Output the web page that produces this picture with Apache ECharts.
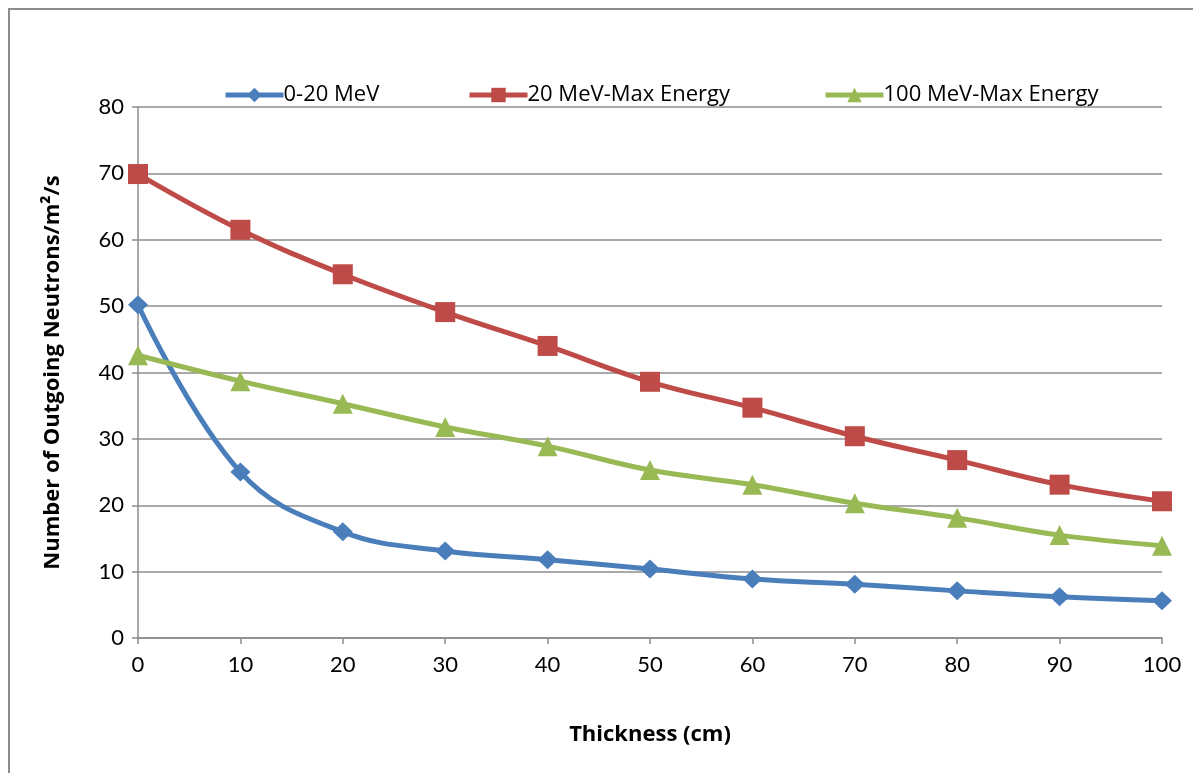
<!DOCTYPE html>
<html>
<head>
<meta charset="utf-8">
<script src="https://cdn.jsdelivr.net/npm/echarts@6/dist/echarts.min.js"></script>
<style>
  html, body { margin: 0; padding: 0; background: #fff; }
  #frame { position: absolute; left: 8px; top: 8px; width: 1200px; height: 780px;
           border: 2px solid #8c8c8c; box-sizing: border-box; }
  #chart { position: absolute; left: 0; top: 0; width: 1193px; height: 773px; }
</style>
</head>
<body>
<div id="frame"></div>
<div id="chart"></div>
<script>
// Thickness in cm
const thickness = [0, 10, 20, 30, 40, 50, 60, 70, 80, 90, 100];
// Outgoing neutron counts per energy band
const lowEnergy = [50.2, 25.0, 16.0, 13.1, 11.8, 10.4, 8.9, 8.1, 7.1, 6.2, 5.6];
const midEnergy = [69.9, 61.5, 54.8, 49.1, 44.0, 38.6, 34.7, 30.4, 26.8, 23.1, 20.6];
const highEnergy = [42.6, 38.7, 35.3, 31.8, 28.9, 25.3, 23.1, 20.3, 18.1, 15.5, 13.9];
const seriesNames = ['0-20 MeV', '20 MeV-Max Energy', '100 MeV-Max Energy'];
const colors = ['#4a7ebb', '#be4b48', '#98b954'];

const font = 'Lato, "Open Sans", sans-serif';
const wideFont = '"Open Sans", Lato, sans-serif';
const pairs = ys => thickness.map((x, i) => [x, ys[i]]);

// one legend block per series so each entry sits at its own spot
const legendLefts = [218, 462, 818];
const legends = seriesNames.map((name, i) => ({
  top: 79,
  left: legendLefts[i],
  itemWidth: 58,
  itemHeight: 18,
  itemGap: 0,
  lineStyle: { width: 5 },
  textStyle: { fontSize: 22, color: '#000', fontFamily: wideFont, padding: [0, 0, 0, -5] },
  data: [name]
}));

const chart = echarts.init(document.getElementById('chart'));
chart.setOption({
  animation: false,
  textStyle: { fontFamily: font },
  legend: legends,
  grid: { left: 138, right: 31, top: 107, bottom: 135 },
  xAxis: {
    type: 'value', min: 0, max: 100, interval: 10,
    name: 'Thickness (cm)', nameLocation: 'middle', nameGap: 86,
    nameTextStyle: { fontSize: 22, fontWeight: 'bold', color: '#000', fontFamily: wideFont },
    axisLine: { lineStyle: { color: '#8c8c8c', width: 1.5 } },
    axisTick: { show: true, length: 6, lineStyle: { color: '#8c8c8c', width: 1.5 } },
    axisLabel: { fontSize: 22, color: '#000', margin: 16 },
    splitLine: { show: false }
  },
  yAxis: {
    type: 'value', min: 0, max: 80, interval: 10,
    name: 'Number of Outgoing Neutrons/m²/s', nameLocation: 'middle', nameGap: 74,
    nameTextStyle: { fontSize: 22, fontWeight: 'bold', color: '#000', fontFamily: wideFont },
    axisLine: { show: true, lineStyle: { color: '#8c8c8c', width: 1.5 } },
    axisTick: { show: true, length: 6, lineStyle: { color: '#8c8c8c', width: 1.5 } },
    axisLabel: { fontSize: 22, color: '#000', margin: 14 },
    splitLine: { lineStyle: { color: '#8c8c8c', width: 1.5 } }
  },
  series: [
    {
      name: seriesNames[0], type: 'line', smooth: 0.4, data: pairs(lowEnergy),
      symbol: 'diamond', symbolSize: [20, 19],
      lineStyle: { width: 5, color: colors[0] }, itemStyle: { color: colors[0] }
    },
    {
      name: seriesNames[1], type: 'line', smooth: 0.4, data: pairs(midEnergy),
      symbol: 'rect', symbolSize: 20,
      lineStyle: { width: 5, color: colors[1] }, itemStyle: { color: colors[1] }
    },
    {
      name: seriesNames[2], type: 'line', smooth: 0.4, data: pairs(highEnergy),
      symbol: 'triangle', symbolSize: 20,
      lineStyle: { width: 5, color: colors[2] }, itemStyle: { color: colors[2] }
    }
  ]
});
</script>
</body>
</html>
